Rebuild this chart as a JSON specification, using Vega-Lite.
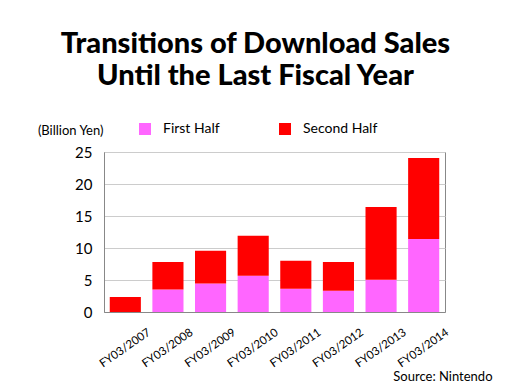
{
  "$schema": "https://vega.github.io/schema/vega-lite/v6.json",
  "width": 341,
  "height": 160,
  "autosize": {"type": "none"},
  "padding": {"left": 104, "top": 152, "right": 67, "bottom": 72},
  "background": "white",
  "title": {
    "text": ["Transitions of Download Sales", "Until the Last Fiscal Year"],
    "font": "Lato",
    "fontSize": 29,
    "fontWeight": 900,
    "lineHeight": 32,
    "color": "black",
    "anchor": "middle",
    "dx": -19,
    "offset": 31
  },
  "data": {
    "values": [
      {"year": "FY03/2007", "half": "First Half", "order": 1, "value": 0},
      {"year": "FY03/2007", "half": "Second Half", "order": 2, "value": 2.34},
      {"year": "FY03/2008", "half": "First Half", "order": 1, "value": 3.5},
      {"year": "FY03/2008", "half": "Second Half", "order": 2, "value": 4.3},
      {"year": "FY03/2009", "half": "First Half", "order": 1, "value": 4.46},
      {"year": "FY03/2009", "half": "Second Half", "order": 2, "value": 5.1},
      {"year": "FY03/2010", "half": "First Half", "order": 1, "value": 5.66},
      {"year": "FY03/2010", "half": "Second Half", "order": 2, "value": 6.24},
      {"year": "FY03/2011", "half": "First Half", "order": 1, "value": 3.63},
      {"year": "FY03/2011", "half": "Second Half", "order": 2, "value": 4.37},
      {"year": "FY03/2012", "half": "First Half", "order": 1, "value": 3.32},
      {"year": "FY03/2012", "half": "Second Half", "order": 2, "value": 4.48},
      {"year": "FY03/2013", "half": "First Half", "order": 1, "value": 5.04},
      {"year": "FY03/2013", "half": "Second Half", "order": 2, "value": 11.36},
      {"year": "FY03/2014", "half": "First Half", "order": 1, "value": 11.39},
      {"year": "FY03/2014", "half": "Second Half", "order": 2, "value": 12.68}
    ]
  },
  "mark": {"type": "bar"},
  "encoding": {
    "x": {
      "field": "year",
      "type": "nominal",
      "sort": null,
      "scale": {"paddingInner": 0.27, "paddingOuter": 0.135},
      "axis": {
        "title": "Source: Nintendo",
        "titleX": 388,
        "titleY": 68,
        "titleAlign": "right",
        "titleAnchor": "end",
        "titleBaseline": "alphabetic",
        "titleFont": "Lato",
        "titleFontSize": 13,
        "titleFontWeight": "normal",
        "titleColor": "black",
        "labelAngle": -35,
        "labelAlign": "center",
        "labelBaseline": "middle",
        "labelFont": "Lato",
        "labelFontSize": 11.5,
        "labelColor": "black",
        "labelPadding": 36,
        "ticks": false,
        "domainColor": "#888888",
        "grid": false
      }
    },
    "y": {
      "field": "value",
      "type": "quantitative",
      "stack": "zero",
      "scale": {"domain": [0, 25], "nice": false},
      "axis": {
        "title": "(Billion Yen)",
        "titleAngle": 0,
        "titleX": -1,
        "titleY": -18,
        "titleAlign": "right",
        "titleBaseline": "alphabetic",
        "titleFont": "Lato",
        "titleFontSize": 13,
        "titleFontWeight": "normal",
        "titleColor": "black",
        "values": [0, 5, 10, 15, 20, 25],
        "labelFont": "Lato",
        "labelFontSize": 15,
        "labelColor": "black",
        "labelPadding": 12,
        "ticks": false,
        "domainColor": "#888888",
        "gridColor": "#cccccc"
      }
    },
    "color": {
      "field": "half",
      "type": "nominal",
      "scale": {"domain": ["First Half", "Second Half"], "range": ["#FF66FF", "#FF0000"]},
      "legend": {
        "title": null,
        "orient": "none",
        "legendX": 34,
        "legendY": -30,
        "direction": "horizontal",
        "symbolType": "square",
        "symbolSize": 144,
        "symbolStrokeWidth": 0,
        "symbolOpacity": 1,
        "labelFont": "Lato",
        "labelFontSize": 14,
        "labelColor": "black",
        "labelOffset": 11,
        "columnPadding": 58
      }
    },
    "order": {"field": "order", "type": "quantitative"}
  },
  "config": {
    "view": {"stroke": "#888888"}
  }
}
